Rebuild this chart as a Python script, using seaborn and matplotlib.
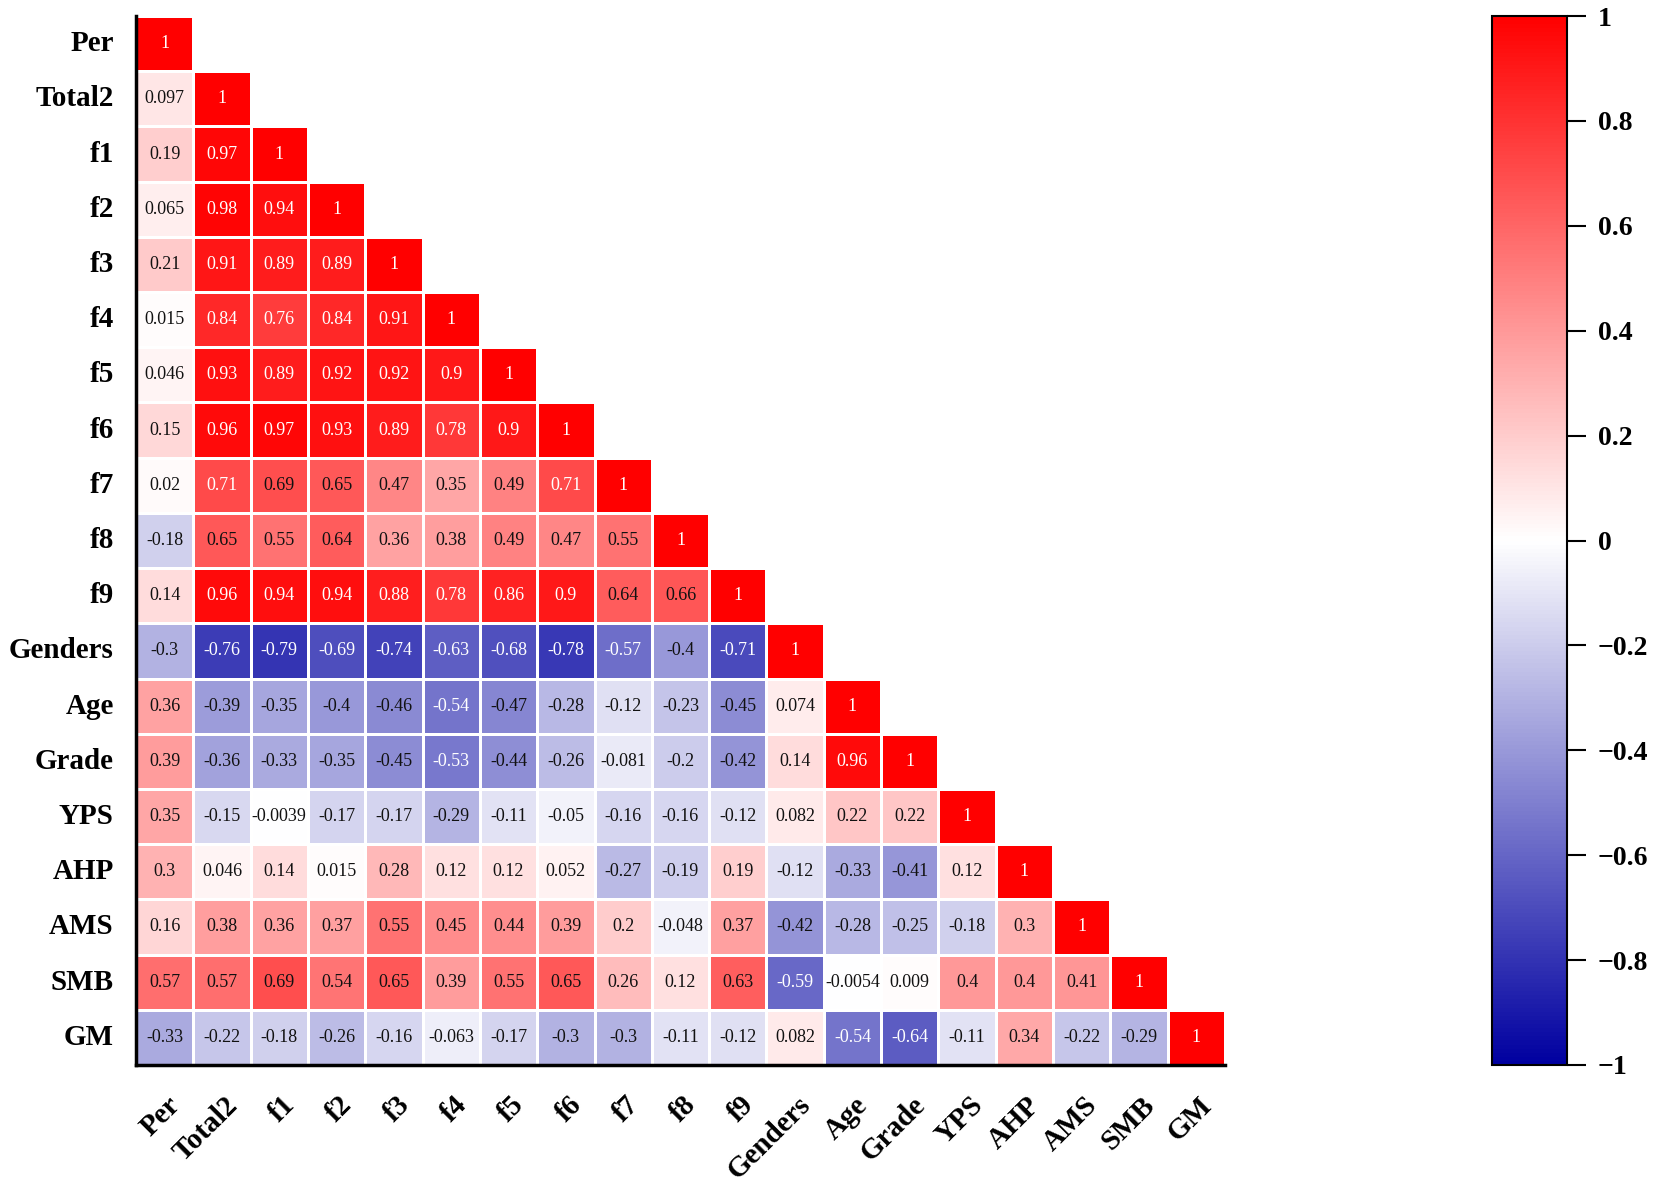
import numpy as np
import pandas as pd
import matplotlib
matplotlib.use("Agg")
import matplotlib.pyplot as plt
import matplotlib.transforms as mtransforms
from matplotlib.colors import LinearSegmentedColormap
from matplotlib.ticker import FuncFormatter
import seaborn as sns

labels = ["Per", "Total2", "f1", "f2", "f3", "f4", "f5", "f6", "f7", "f8", "f9",
          "Genders", "Age", "Grade", "YPS", "AHP", "AMS", "SMB", "GM"]

row_Per = [1]
row_Total2 = [0.097, 1]
row_f1 = [0.19, 0.97, 1]
row_f2 = [0.065, 0.98, 0.94, 1]
row_f3 = [0.21, 0.91, 0.89, 0.89, 1]
row_f4 = [0.015, 0.84, 0.76, 0.84, 0.91, 1]
row_f5 = [0.046, 0.93, 0.89, 0.92, 0.92, 0.9, 1]
row_f6 = [0.15, 0.96, 0.97, 0.93, 0.89, 0.78, 0.9, 1]
row_f7 = [0.02, 0.71, 0.69, 0.65, 0.47, 0.35, 0.49, 0.71, 1]
row_f8 = [-0.18, 0.65, 0.55, 0.64, 0.36, 0.38, 0.49, 0.47, 0.55, 1]
row_f9 = [0.14, 0.96, 0.94, 0.94, 0.88, 0.78, 0.86, 0.9, 0.64, 0.66, 1]
row_Genders = [-0.3, -0.76, -0.79, -0.69, -0.74, -0.63, -0.68, -0.78, -0.57, -0.4, -0.71, 1]
row_Age = [0.36, -0.39, -0.35, -0.4, -0.46, -0.54, -0.47, -0.28, -0.12, -0.23, -0.45, 0.074, 1]
row_Grade = [0.39, -0.36, -0.33, -0.35, -0.45, -0.53, -0.44, -0.26, -0.081, -0.2, -0.42, 0.14, 0.96, 1]
row_YPS = [0.35, -0.15, -0.0039, -0.17, -0.17, -0.29, -0.11, -0.05, -0.16, -0.16, -0.12, 0.082, 0.22, 0.22, 1]
row_AHP = [0.3, 0.046, 0.14, 0.015, 0.28, 0.12, 0.12, 0.052, -0.27, -0.19, 0.19, -0.12, -0.33, -0.41, 0.12, 1]
row_AMS = [0.16, 0.38, 0.36, 0.37, 0.55, 0.45, 0.44, 0.39, 0.2, -0.048, 0.37, -0.42, -0.28, -0.25, -0.18, 0.3, 1]
row_SMB = [0.57, 0.57, 0.69, 0.54, 0.65, 0.39, 0.55, 0.65, 0.26, 0.12, 0.63, -0.59, -0.0054, 0.009, 0.4, 0.4, 0.41, 1]
row_GM = [-0.33, -0.22, -0.18, -0.26, -0.16, -0.063, -0.17, -0.3, -0.3, -0.11, -0.12, 0.082, -0.54, -0.64, -0.11, 0.34, -0.22, -0.29, 1]

cbar_ticks = [1, 0.8, 0.6, 0.4, 0.2, 0, -0.2, -0.4, -0.6, -0.8, -1]

rows = [row_Per, row_Total2, row_f1, row_f2, row_f3, row_f4, row_f5, row_f6, row_f7,
        row_f8, row_f9, row_Genders, row_Age, row_Grade, row_YPS, row_AHP, row_AMS,
        row_SMB, row_GM]

n = len(labels)
mat = np.full((n, n), np.nan)
for i, r in enumerate(rows):
    for j, v in enumerate(r):
        mat[i, j] = v
        mat[j, i] = v
df = pd.DataFrame(mat, index=labels, columns=labels)
mask = np.triu(np.ones((n, n), dtype=bool), k=1)

sns.set_theme(style="white")
plt.rcParams["font.family"] = ["Liberation Serif", "DejaVu Serif"]
plt.rcParams["axes.unicode_minus"] = True

fig = plt.figure(figsize=(16.54, 11.88), dpi=100)
ax = fig.add_axes([136 / 1654, 1 - 1065 / 1188, 1089 / 1654, 1049 / 1188])
cax = fig.add_axes([1492 / 1654, 1 - 1065 / 1188, 75 / 1654, 1049 / 1188])

cmap = LinearSegmentedColormap.from_list("bwr_custom", ["#0000A0", "#FFFFFF", "#FF0000"])

sns.heatmap(df, mask=mask, cmap=cmap, vmin=-1, vmax=1, annot=True, fmt=".2g",
            annot_kws={"size": 13}, linewidths=1, linecolor="white",
            ax=ax, cbar_ax=cax, cbar_kws={"ticks": cbar_ticks}, square=False)

# annotation colours
for t in ax.texts:
    x, y = t.get_position()
    v = mat[int(y), int(x)]
    t.set_color("white" if (v >= 0.7 or v <= -0.5) else "#111111")
    t.set_fontweight("normal")

ax.set_yticklabels(labels, rotation=0, fontsize=21, fontweight="bold", color="black")
ax.set_xticklabels(labels, rotation=45, ha="right", fontsize=21, fontweight="bold", color="black")
ax.tick_params(axis="y", length=0, pad=16)
ax.tick_params(axis="x", length=0, pad=19)
offset = mtransforms.ScaledTranslation(0.21, 0, fig.dpi_scale_trans)
for lbl in ax.get_xticklabels():
    lbl.set_transform(lbl.get_transform() + offset)

for s in ["left", "bottom"]:
    ax.spines[s].set_visible(True)
    ax.spines[s].set_linewidth(2.5)
    ax.spines[s].set_color("black")
for s in ["top", "right"]:
    ax.spines[s].set_visible(False)

cb = ax.collections[0].colorbar
cb.outline.set_linewidth(1.5)
cb.outline.set_edgecolor("black")
cb.ax.yaxis.set_major_formatter(FuncFormatter(
    lambda v, p: ("0" if abs(v) < 1e-9 else f"{v:g}").replace("-", "\u2212")))
cax.tick_params(length=14, width=1.5, pad=8, labelsize=20, colors="black")
for lbl in cax.get_yticklabels():
    lbl.set_fontweight("bold")

fig.savefig("out.png", dpi=100, facecolor="white")
